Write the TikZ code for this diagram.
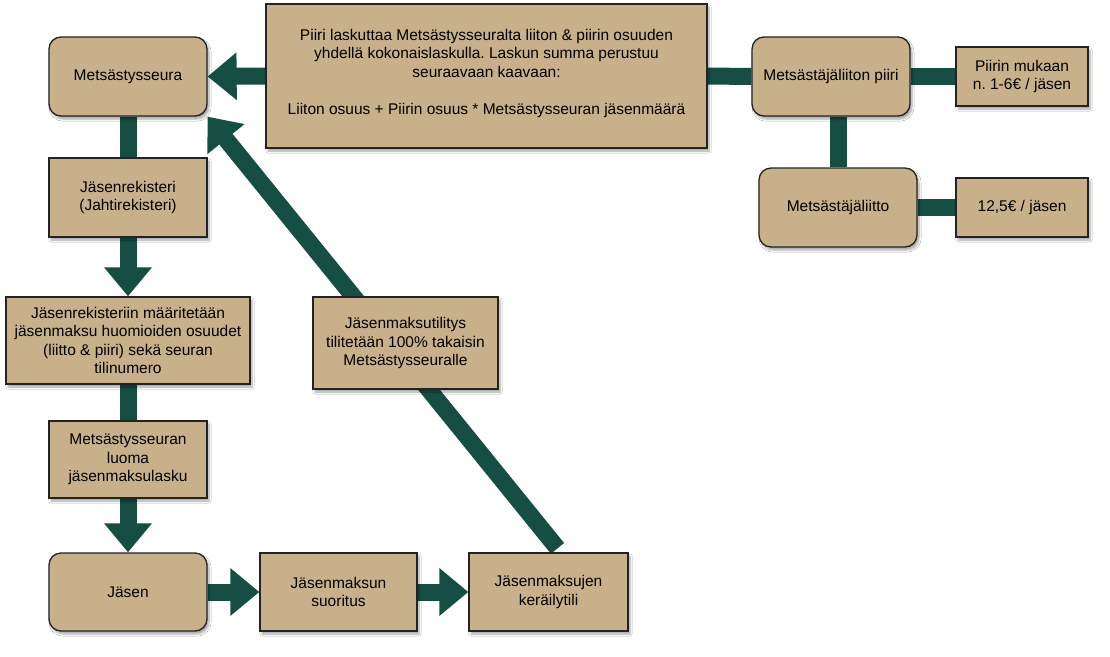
\documentclass[tikz,border=0pt]{standalone}
\usepackage{fontspec}
\setmainfont{Liberation Sans}
\frenchspacing
\usetikzlibrary{arrows.meta,shadows.blur,backgrounds,calc}
\definecolor{boxfill}{RGB}{200,176,139}
\definecolor{linkgreen}{RGB}{22,78,68}
\definecolor{boxline}{RGB}{35,35,35}
\begin{document}
\begin{tikzpicture}[x=1pt,y=-1pt,
  every node/.style={font=\fontsize{15.5}{18.6}\selectfont, align=center, inner sep=0pt, text=black},
  box/.style={draw=boxline, line width=1.3pt, fill=boxfill, blur shadow={shadow xshift=2pt, shadow yshift=-3pt, shadow blur steps=6, shadow opacity=35}},
  rbox/.style={box, rounded corners=12pt},
  link/.style={draw=linkgreen, line width=17pt},
  arr/.style={link, -{Triangle[width=46pt,length=29pt]}}
]
\useasboundingbox (0,0) rectangle (1110,656);

\node[rbox, minimum width=158pt, minimum height=79pt] (ms) at (128,76.5) {Metsästysseura};
\node[box, minimum width=441pt, minimum height=144pt, text depth=0pt, inner ysep=0pt] (big) at (486.5,76) {\\[-16pt]Piiri laskuttaa Metsästysseuralta liiton \& piirin osuuden\\ yhdellä kokonaislaskulla. Laskun summa perustuu\\ seuraavaan kaavaan:\\[18.6pt] Liiton osuus + Piirin osuus * Metsästysseuran jäsenmäärä};
\node[rbox, minimum width=158pt, minimum height=79pt] (piiri) at (831,76.5) {Metsästäjäliiton piiri};
\node[box, minimum width=132pt, minimum height=59pt] (pm) at (1022,76.5) {Piirin mukaan\\ n. 1-6€ / jäsen};
\node[rbox, minimum width=158pt, minimum height=79pt] (liitto) at (838,207.5) {Metsästäjäliitto};
\node[box, minimum width=132pt, minimum height=59pt] (eur) at (1022,207.5) {12,5€ / jäsen};
\node[box, minimum width=158pt, minimum height=79pt] (rek) at (128,197.5) {Jäsenrekisteri\\ (Jahtirekisteri)};
\node[box, minimum width=244pt, minimum height=87pt] (maar) at (128,340.5) {Jäsenrekisteriin määritetään\\ jäsenmaksu huomioiden osuudet\\ (liitto \& piiri) sekä seuran\\ tilinumero};
\node[box, minimum width=158pt, minimum height=77pt] (luoma) at (128,459.5) {Metsästysseuran\\ luoma\\ jäsenmaksulasku};
\node[rbox, minimum width=158pt, minimum height=78pt] (jasen) at (128,592) {Jäsen};
\node[box, minimum width=157pt, minimum height=78pt] (suor) at (338.5,592) {Jäsenmaksun\\ suoritus};
\node[box, minimum width=159pt, minimum height=78pt] (ker) at (548.5,592) {Jäsenmaksujen\\ keräilytili};
\node[box, minimum width=185pt, minimum height=92pt] (til) at (405.5,343) {Jäsenmaksutilitys\\ tilitetään 100\% takaisin\\ Metsästysseuralle};

\coordinate (kerout) at ($(ker.north)+(9,-4)$);

\begin{scope}[on background layer]
  \fill[white] (0,0) rectangle (1110,656);
  \draw[arr] (big.west) -- (ms.east);
  \draw[link] (big.east) -- (piiri.west);
  \draw[link] (piiri.east) -- (pm.west);
  \draw[link] (piiri.south -| liitto.north) -- (liitto.north);
  \draw[link] (liitto.east) -- (eur.west);
  \draw[link] (ms.south) -- (rek.north);
  \draw[arr] (rek.south) -- (maar.north);
  \draw[link] (maar.south) -- (luoma.north);
  \draw[arr] (luoma.south) -- (jasen.north);
  \draw[arr] (jasen.east) -- (suor.west);
  \draw[arr] (suor.east) -- (ker.west);
  \draw[arr] (kerout) -- (ms.south east);
\end{scope}
\end{tikzpicture}
\end{document}
